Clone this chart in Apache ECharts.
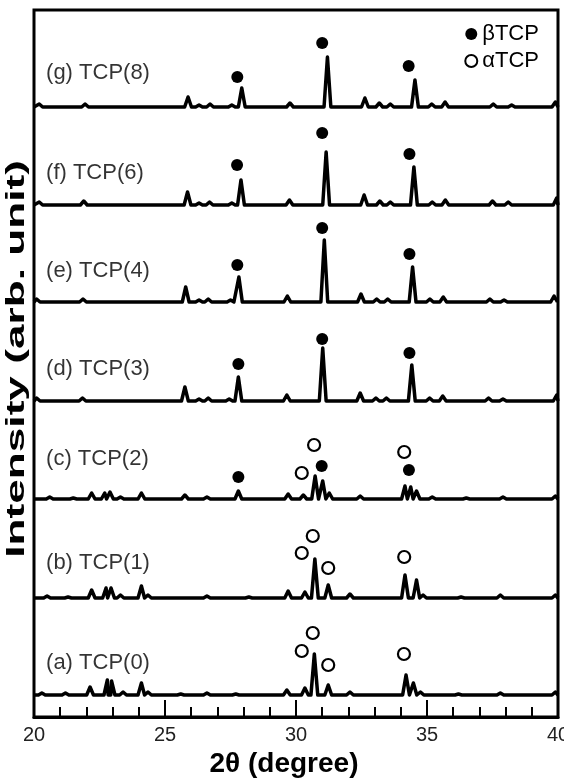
<!DOCTYPE html>
<html>
<head>
<meta charset="utf-8">
<script src="https://cdn.jsdelivr.net/npm/echarts@6/dist/echarts.min.js"></script>
<style>
  html, body { margin: 0; padding: 0; background: #fff; }
  #chart { width: 564px; height: 780px; }
</style>
</head>
<body>
<div id="chart"></div>
<script>
// sample names, bottom to top
const sampleNames = ['(a) TCP(0)', '(b) TCP(1)', '(c) TCP(2)', '(d) TCP(3)', '(e) TCP(4)', '(f) TCP(6)', '(g) TCP(8)'];
// vertical stacking offset of every pattern (arb. unit)
const offsets = [22, 119, 218, 316, 415, 512, 610];
const labelLift = [32, 35, 40, 32, 31, 32, 34];

// peaks: [2theta, height above baseline]
const peaksA = [[20.3,2],[21.2,2],[22.14,8],[22.8,15],[22.96,14],[23.4,3],[24.1,12],[24.35,3],[25.6,1],[26.6,2],[27.7,1],[29.65,5],[30.34,7],[30.7,41],[31.23,10],[32.06,3],[34.2,20],[34.48,12],[34.75,3],[36.2,1],[37.8,2],[39.9,3]];
const peaksB = [[20.5,2],[21.3,1],[22.2,8],[22.75,10],[22.94,10],[23.3,3],[24.1,12],[24.35,3],[26.6,2],[28.2,1],[29.7,7],[30.34,6],[30.72,39],[31.23,13],[32.06,4],[34.16,23],[34.6,18],[34.85,3],[36.3,1],[37.8,3],[39.9,3]];
const peaksC = [[20.6,2],[21.5,1],[22.2,6],[22.7,6],[22.9,7],[23.3,2],[24.1,6],[25.76,4],[26.6,2],[27.8,8],[29.7,5],[30.28,4],[30.73,23],[31.02,18],[31.27,6],[32.45,3],[34.16,13],[34.38,12],[34.6,8],[35.2,2],[36.5,1],[37.9,2],[39.9,3]];
const peaksD = [[20.1,3],[21.85,3],[25.76,14],[26.3,2],[26.65,3],[27.45,2],[27.8,24],[29.65,6],[31.02,53],[32.45,8],[33.05,3],[33.45,3],[34.42,36],[35.1,3],[35.6,5],[37.35,3],[37.9,2],[39.95,6]];
const peaksE = [[20.1,3],[21.87,3],[25.79,15],[26.3,2],[26.65,3],[27.5,2],[27.82,25],[29.67,6],[31.08,62],[32.48,8],[33.08,3],[33.5,3],[34.45,35],[35.11,3],[35.62,5],[37.4,3],[37.94,2],[39.85,6]];
const peaksF = [[20.2,3],[21.9,4],[25.86,13],[26.3,2],[26.7,3],[27.55,2],[27.9,25],[29.75,5],[31.15,53],[32.6,10],[33.2,4],[33.6,3],[34.5,38],[35.2,3],[35.7,5],[37.5,4],[38.1,3],[39.95,7]];
const peaksG = [[20.2,3],[21.95,3],[25.88,10],[26.3,2],[26.72,3],[27.55,2],[27.93,19],[29.77,4],[31.2,50],[32.63,9],[33.18,4],[33.6,3],[34.54,27],[35.18,3],[35.69,5],[37.53,3],[38.23,2],[39.9,5]];
const allPeaks = [peaksA, peaksB, peaksC, peaksD, peaksE, peaksF, peaksG];

// phase markers: [2theta, height above baseline]
const betaMarks = [[], [], [[27.8,22],[30.98,33],[34.31,29]], [[27.8,37],[31.0,62],[34.33,48]], [[27.76,37],[31.0,74],[34.33,48]], [[27.75,40],[31.0,72],[34.33,51]], [[27.76,30],[31.0,64],[34.3,41]]];
const alphaMarks = [[[30.22,44],[30.64,62],[31.23,30],[34.12,41]], [[30.22,45],[30.64,62],[31.23,30],[34.13,41]], [[30.22,26],[30.69,54],[34.13,47]], [], [], [], []];

const FONT = 'Liberation Sans, Arial, sans-serif';
const HALF = 0.13; // half base width of a peak, degrees

function pattern(peaks, base) {
  const pts = [[20, base]];
  peaks.forEach(p => {
    pts.push([p[0] - HALF, base], [p[0], base + p[1]], [p[0] + HALF, base]);
  });
  pts.push([40, base]);
  pts.sort((a, b) => a[0] - b[0]);
  return pts.filter(p => p[0] >= 20 && p[0] <= 40);
}

const series = [];
allPeaks.forEach((peaks, i) => {
  series.push({
    name: sampleNames[i],
    type: 'line',
    data: pattern(peaks, offsets[i]),
    showSymbol: false,
    symbol: 'none',
    lineStyle: { color: '#000', width: 3.5, join: 'round' },
    z: 2,
  });
});

series.push({
  name: 'βTCP',
  type: 'scatter',
  symbol: 'circle',
  symbolSize: 12,
  itemStyle: { color: '#000', opacity: 1 },
  data: betaMarks.flatMap((m, i) => m.map(p => [p[0], offsets[i] + p[1]])),
  z: 3,
});
series.push({
  name: 'αTCP',
  type: 'scatter',
  symbol: 'circle',
  symbolSize: 12,
  itemStyle: { color: '#fff', borderColor: '#000', borderWidth: 2.2, opacity: 1 },
  data: alphaMarks.flatMap((m, i) => m.map(p => [p[0], offsets[i] + p[1]])),
  z: 3,
});
series.push({
  name: 'labels',
  type: 'scatter',
  symbolSize: 0,
  silent: true,
  data: sampleNames.map((n, i) => ({ value: [20.46, offsets[i] + labelLift[i]], name: n })),
  label: {
    show: true,
    position: 'right',
    distance: 0,
    formatter: p => p.name,
    color: '#000',
    fontSize: 22,
    fontFamily: FONT,
  },
});

const chart = echarts.init(document.getElementById('chart'));
chart.setOption({
  animation: false,
  backgroundColor: '#fff',
  grid: {
    left: 34,
    right: 6,
    top: 10,
    bottom: 63,
    containLabel: false,
    outerBoundsMode: 'none',
    show: true,
    borderColor: '#000',
    borderWidth: 3,
  },
  legend: {
    data: ['βTCP', 'αTCP'],
    orient: 'vertical',
    right: 20,
    top: 18,
    itemWidth: 12,
    itemHeight: 12,
    itemGap: 5,
    textStyle: { color: '#000', fontSize: 22, fontFamily: FONT },
  },
  // y axis title, stretched along its length like the original
  graphic: [{
    type: 'text',
    left: 4,
    top: 160,
    rotation: Math.PI / 2,
    scaleX: 1.7,
    style: {
      text: 'Intensity (arb. unit)',
      fill: '#000',
      font: 'bold 26px ' + FONT,
      align: 'center',
      verticalAlign: 'middle',
    },
  }],
  xAxis: {
    type: 'value',
    min: 20,
    max: 40,
    interval: 5,
    name: '2θ (degree)',
    nameLocation: 'middle',
    nameGap: 28,
    nameTextStyle: { color: '#000', fontSize: 28, fontWeight: 'bold', fontFamily: FONT, padding: [0, 24, 0, 0] },
    axisLine: { lineStyle: { color: '#000', width: 3 } },
    axisTick: { inside: true, length: 17, lineStyle: { color: '#000', width: 2 } },
    minorTick: { show: true, splitNumber: 5, length: 10, lineStyle: { color: '#000', width: 2 } },
    axisLabel: { color: '#222', fontSize: 20, margin: 8, fontFamily: FONT },
    splitLine: { show: false },
  },
  yAxis: {
    type: 'value',
    min: 0,
    max: 707,
    axisLine: { show: false },
    axisTick: { show: false },
    axisLabel: { show: false },
    splitLine: { show: false },
  },
  series: series,
});
</script>
</body>
</html>
